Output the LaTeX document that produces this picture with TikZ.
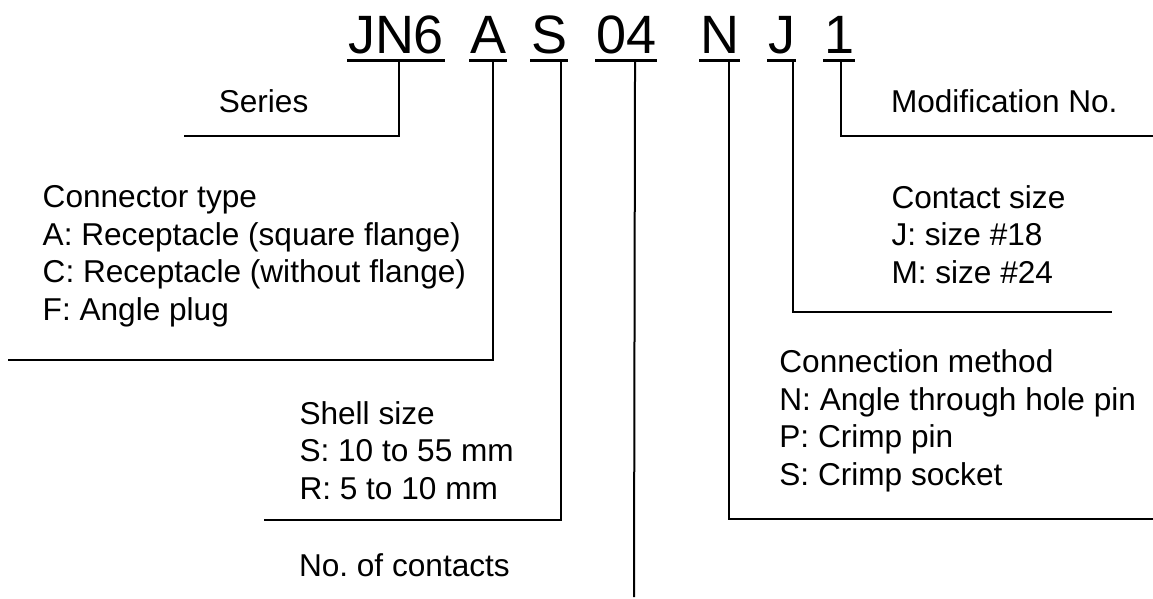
\documentclass[tikz,border=0pt]{standalone}
\usepackage{fontspec}
\setmainfont{Liberation Sans}
\usepackage{tikz}

\begin{document}
\frenchspacing
\begin{tikzpicture}[x=1pt, y=-1pt, line width=2pt]
    \tikzstyle{code}=[anchor=base west, inner sep=0pt, font=\fontsize{54}{60}\selectfont];
    % multi-line nodes: base = baseline of the last line
    \tikzstyle{desc}=[anchor=base west, inner sep=0pt, align=left, font=\fontsize{31.6}{37.5}\selectfont];
    \tikzstyle{uline}=[line width=3pt];
\useasboundingbox (0,0) rectangle (1153,598);

% part number
\node[code] (jn6) at (347,53.3) {JN6};
\node[code] (a) at (469.3,53.3) {A};
\node[code] (s) at (530,53.3) {S};
\node[code] (no) at (595,53.3) {04};
\node[code] (n) at (699,53.3) {N};
\node[code] (j) at (767,53.3) {J};
\node[code] (one) at (823,53.3) {1};
\foreach \p in {jn6,a,s,no,n,j,one}{
\draw[uline] ([yshift=-6.7pt]\p.base west) -- ([yshift=-6.7pt]\p.base east);
};

% descriptions
\node[desc] (ser) at (217.8,112.3) {Series};
\node[desc] (typ) at (41.7,320) {Connector type\\A: Receptacle (square flange)\\C: Receptacle (without flange)\\F: Angle plug};
\node[desc] (shl) at (298.5,499) {Shell size\\S: 10 to 55 mm\\R: 5 to 10 mm};
\node[desc] (cnt) at (298,576.7) {No. of contacts};
\node[desc] (mod) at (890,112.3) {Modification No.};
\node[desc] (csz) at (890.5,283.3) {Contact size\\J: size \#18\\M: size \#24};
\node[desc] (cmt) at (778.4,485) {Connection method\\N: Angle through hole pin\\P: Crimp pin\\S: Crimp socket};

% leader ends
\coordinate (serEnd) at (184,136);
\coordinate (typEnd) at (8,360);
\coordinate (shlEnd) at (264,520);
\coordinate (cntEnd) at (634,597);
\coordinate (cmtEnd) at (1153,519);
\coordinate (cszEnd) at (1112,311.5);
\coordinate (modEnd) at (1153,136);

\draw ([xshift=3pt,yshift=-6.7pt]jn6.base) |- (serEnd);
\draw ([xshift=4.2pt,yshift=-6.7pt]a.base) |- (typEnd);
\draw ([xshift=12pt,yshift=-6.7pt]s.base) |- (shlEnd);
\draw ([xshift=9pt,yshift=-6.7pt]no.base) -- (cntEnd);
\draw ([xshift=9.5pt,yshift=-6.7pt]n.base) |- (cmtEnd);
\draw ([xshift=11.8pt,yshift=-6.7pt]j.base) |- (cszEnd);
\draw ([xshift=2pt,yshift=-6.7pt]one.base) |- (modEnd);
\end{tikzpicture}
\end{document}
